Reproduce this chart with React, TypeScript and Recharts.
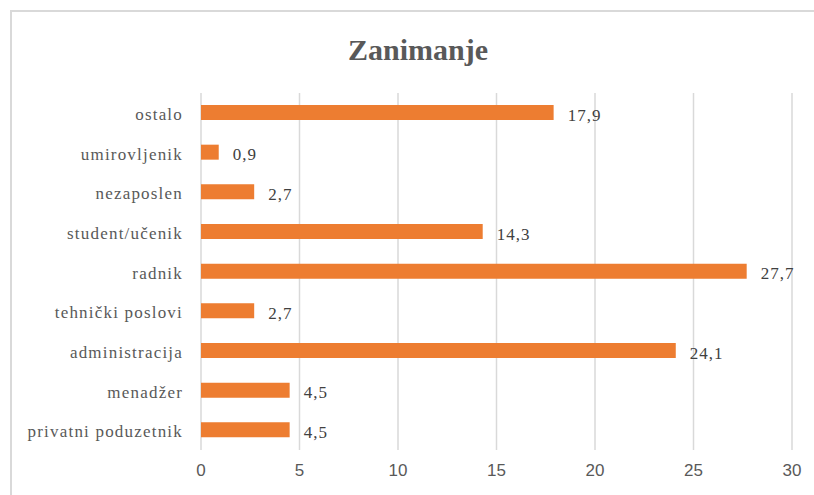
import React from "react";
import { BarChart, Bar, XAxis, YAxis, CartesianGrid, LabelList } from "recharts";

const categories = [
  "ostalo",
  "umirovljenik",
  "nezaposlen",
  "student/učenik",
  "radnik",
  "tehnički poslovi",
  "administracija",
  "menadžer",
  "privatni poduzetnik",
];
const values = [17.9, 0.9, 2.7, 14.3, 27.7, 2.7, 24.1, 4.5, 4.5];
const xTicks = [0, 5, 10, 15, 20, 25, 30];
const title = "Zanimanje";

const data = categories.map((c, i) => ({ name: c, value: values[i] }));

const fmt = (v: any) => Number(v).toFixed(1).replace(".", ",");

const SERIF = "'Liberation Serif', 'DejaVu Serif', serif";
const SANS = "'Liberation Sans', Arial, sans-serif";

const YTick = (props: any) => {
  const { x, y, payload } = props;
  return (
    <text
      x={x}
      y={y}
      dy={7}
      textAnchor="end"
      fontFamily={SERIF}
      fontSize={17}
      fill="#595959"
      letterSpacing={1.2}
    >
      {payload.value}
    </text>
  );
};

const XTick = (props: any) => {
  const { x, y, payload } = props;
  return (
    <text
      x={x}
      y={y}
      dy={12}
      textAnchor="middle"
      fontFamily={SANS}
      fontSize={17}
      fill="#595959"
    >
      {payload.value}
    </text>
  );
};

const ValueLabel = (props: any) => {
  const { x, y, width, height, value } = props;
  return (
    <text
      x={Number(x) + Number(width) + 14}
      y={Number(y) + Number(height) / 2 + 8}
      textAnchor="start"
      fontFamily={SERIF}
      fontSize={17}
      fill="#404040"
      letterSpacing={1}
    >
      {fmt(value)}
    </text>
  );
};

export default function App() {
  return (
    <div style={{ position: "absolute", left: 0, top: 0, width: 814, height: 495, background: "#fff", overflow: "hidden" }}>
      <div
        style={{
          position: "absolute",
          left: 10,
          top: 10,
          width: 900,
          height: 600,
          border: "2px solid #d9d9d9",
          boxSizing: "border-box",
        }}
      />
      <div
        style={{
          position: "absolute",
          left: 318,
          top: 34,
          width: 200,
          textAlign: "center",
          fontFamily: SERIF,
          fontWeight: "bold",
          fontSize: 30,
          lineHeight: "32px",
          color: "#595959",
        }}
      >
        {title}
      </div>
      <div style={{ position: "absolute", left: 0, top: 0 }}>
        <BarChart
          width={814}
          height={495}
          data={data}
          layout="vertical"
          margin={{ top: 93, right: 22, bottom: 15, left: 11 }}
          barCategoryGap={0}
        >
          <CartesianGrid horizontal={false} vertical={true} stroke="#d9d9d9" strokeWidth={1.5} />
          <XAxis
            type="number"
            domain={[0, 30]}
            ticks={xTicks}
            axisLine={false}
            tickLine={false}
            tickSize={0}
            tickMargin={14}
            height={30}
            tick={<XTick />}
          />
          <YAxis
            type="category"
            dataKey="name"
            width={190}
            axisLine={false}
            tickLine={false}
            tickSize={0}
            tickMargin={18}
            interval={0}
            tick={<YTick />}
          />
          <Bar dataKey="value" fill="#ED7D31" barSize={15} isAnimationActive={false}>
            <LabelList dataKey="value" content={<ValueLabel />} />
          </Bar>
        </BarChart>
      </div>
    </div>
  );
}
